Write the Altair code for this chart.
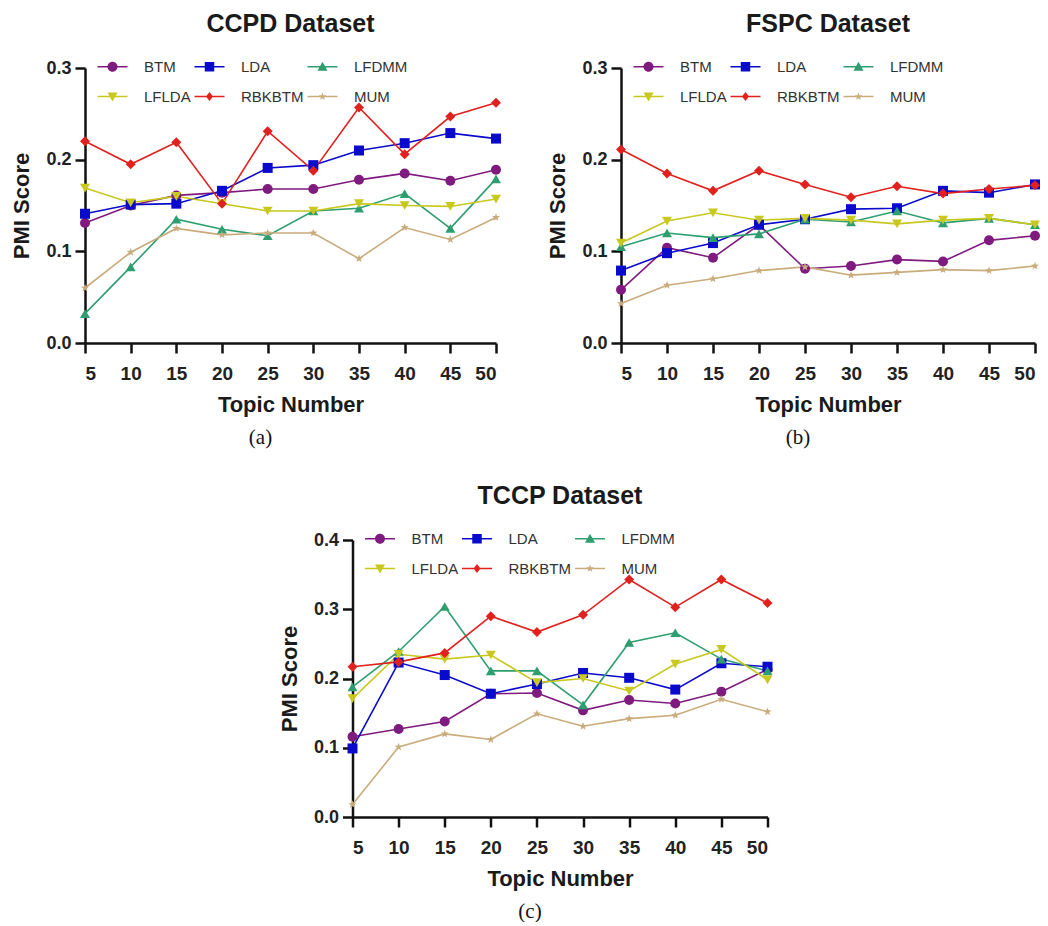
import math
import altair as alt
import pandas as pd

TOPICS = [5, 10, 15, 20, 25, 30, 35, 40, 45, 50]
MODELS = ["BTM", "LDA", "LFDMM", "LFLDA", "RBKBTM", "MUM"]
COLORS = ["#7F1A7F", "#0A0ACC", "#2E9E70", "#C8C81E", "#E0211E", "#C9AC7C"]

CCPD = {
    "BTM":    [0.131, 0.150, 0.161, 0.164, 0.168, 0.168, 0.178, 0.185, 0.177, 0.189],
    "LDA":    [0.141, 0.151, 0.152, 0.166, 0.191, 0.194, 0.210, 0.218, 0.229, 0.223],
    "LFDMM":  [0.032, 0.083, 0.135, 0.124, 0.117, 0.144, 0.147, 0.163, 0.125, 0.179],
    "LFLDA":  [0.169, 0.153, 0.160, 0.152, 0.144, 0.144, 0.152, 0.150, 0.149, 0.157],
    "RBKBTM": [0.220, 0.195, 0.219, 0.152, 0.231, 0.188, 0.257, 0.206, 0.247, 0.262],
    "MUM":    [0.060, 0.099, 0.125, 0.118, 0.120, 0.120, 0.092, 0.126, 0.113, 0.137],
}
FSPC = {
    "BTM":    [0.058, 0.104, 0.093, 0.129, 0.081, 0.084, 0.091, 0.089, 0.112, 0.117],
    "LDA":    [0.079, 0.098, 0.109, 0.129, 0.135, 0.146, 0.147, 0.166, 0.164, 0.173],
    "LFDMM":  [0.105, 0.120, 0.115, 0.119, 0.135, 0.132, 0.144, 0.131, 0.136, 0.129],
    "LFLDA":  [0.109, 0.133, 0.142, 0.134, 0.136, 0.134, 0.130, 0.134, 0.136, 0.129],
    "RBKBTM": [0.211, 0.185, 0.166, 0.188, 0.173, 0.159, 0.171, 0.163, 0.168, 0.172],
    "MUM":    [0.043, 0.063, 0.070, 0.079, 0.083, 0.074, 0.077, 0.080, 0.079, 0.084],
}
TCCP = {
    "BTM":    [0.116, 0.127, 0.138, 0.178, 0.179, 0.154, 0.169, 0.164, 0.181, 0.213],
    "LDA":    [0.099, 0.223, 0.205, 0.178, 0.192, 0.208, 0.201, 0.184, 0.222, 0.217],
    "LFDMM":  [0.188, 0.239, 0.304, 0.211, 0.211, 0.162, 0.252, 0.266, 0.228, 0.211],
    "LFLDA":  [0.171, 0.235, 0.228, 0.234, 0.194, 0.200, 0.182, 0.221, 0.242, 0.198],
    "RBKBTM": [0.217, 0.224, 0.237, 0.290, 0.267, 0.292, 0.343, 0.303, 0.343, 0.309],
    "MUM":    [0.018, 0.101, 0.120, 0.112, 0.149, 0.131, 0.142, 0.147, 0.170, 0.152],
}

FONT = "Liberation Sans"


def star_path(r_out=1.0, r_in=0.4):
    pts = []
    for k in range(10):
        r = r_out if k % 2 == 0 else r_in
        a = math.radians(-90 + 36 * k)
        pts.append((r * math.cos(a), r * math.sin(a)))
    return "M" + "L".join(f"{x:.3f},{y:.3f}" for x, y in pts) + "Z"


STAR = star_path(0.85, 0.35)
MARKERS = ["circle", "square", "triangle-up", "triangle-down", "diamond", STAR]

# legend glyphs: a short line with the marker on it (unit = 5px at symbolSize 100)
LINE = "M-3,-0.16H3V0.16H-3Z"
LEG_MARKERS = [
    "M1,0A1,1 0 1,1 -1,0A1,1 0 1,1 1,0Z",
    "M-0.95,-0.95H0.95V0.95H-0.95Z",
    "M0,-1L1,0.8L-1,0.8Z",
    "M-1,-0.8H1L0,1Z",
    "M0,-0.9L0.7,0L0,0.9L-0.7,0Z",
    star_path(0.8, 0.33),
]
LEG_PATHS = [LINE + m for m in LEG_MARKERS]


def panel(title, caption, data, ymax, w, h):
    df = pd.DataFrame(
        [{"topic": t, "model": m, "score": v}
         for m in MODELS for t, v in zip(TOPICS, data[m])]
    )
    yticks = [round(0.1 * i, 1) for i in range(int(round(ymax * 10)) + 1)]
    base = alt.Chart(df)
    x = alt.X("topic:Q", scale=alt.Scale(domain=[5, 50], nice=False, zero=False),
              axis=alt.Axis(values=TOPICS, format="d", title="Topic Number",
                            labelPadding=11, titlePadding=11, labelFontSize=19))
    y = alt.Y("score:Q", scale=alt.Scale(domain=[0, ymax], nice=False),
              axis=alt.Axis(values=yticks, format=".1f", title="PMI Score",
                            labelPadding=4, titlePadding=12))
    cscale = alt.Scale(domain=MODELS, range=COLORS)
    lines = base.mark_line(strokeWidth=1.6).encode(
        x=x, y=y, color=alt.Color("model:N", scale=cscale, legend=None),
        order=alt.Order("topic:Q"))
    pts = base.mark_point(filled=True, opacity=1, size=100, strokeWidth=0).encode(
        x=x, y=y, color=alt.Color("model:N", scale=cscale, legend=None),
        shape=alt.Shape("model:N", scale=alt.Scale(domain=MODELS, range=MARKERS), legend=None))
    legprops = dict(title=None, orient="none", legendX=12, legendY=-9, columns=3,
                    direction="horizontal",
                    symbolSize=100, symbolOffset=8, labelOffset=24,
                    labelFont=FONT, labelFontSize=15, labelColor="#333333",
                    rowPadding=14, columnPadding=3, padding=0, symbolStrokeWidth=0)
    leg = base.transform_filter("false").mark_point(filled=True, opacity=1, size=100).encode(
        x=x, y=y,
        color=alt.Color("model:N", scale=cscale, legend=alt.Legend(**legprops)),
        shape=alt.Shape("model:N", scale=alt.Scale(domain=MODELS, range=LEG_PATHS),
                        legend=alt.Legend(**legprops)))
    cap = alt.Chart(pd.DataFrame({"c": [caption]})).mark_text(
        font="Liberation Serif", fontSize=21, color="#111111", baseline="middle").encode(
        text="c:N", x=alt.value(w / 2 - 30), y=alt.value(h + 95))
    return alt.layer(lines, pts, leg, cap).resolve_scale(
        color="independent", shape="independent").properties(
        width=w, height=h,
        title=alt.TitleParams(title, font=FONT, fontSize=25, fontWeight="bold",
                              color="#1a1a1a", anchor="middle", frame="group", offset=22))


pa = panel("CCPD Dataset", "(a)", CCPD, 0.3, 411, 275)
pb = panel("FSPC Dataset", "(b)", FSPC, 0.3, 414, 275)
pc = panel("TCCP Dataset", "(c)", TCCP, 0.4, 415, 277)

top = alt.hconcat(pa, pb, spacing=45)
chart = alt.vconcat(top, pc, spacing=36, center=True).configure_view(stroke=None).configure_axis(
    domainColor="#111111", domainWidth=2.5, tickColor="#111111", tickWidth=2.5, tickSize=10,
    labelFont=FONT, labelFontSize=18, labelFontWeight="bold", labelColor="#222222",
    titleFont=FONT, titleFontSize=22, titleFontWeight="bold", titleColor="#1a1a1a", grid=False
).properties(padding={"left": 10, "top": 12, "right": 0, "bottom": 0}, background="white")

chart.save("out.html", embed_options={"renderer": "svg", "actions": False})
